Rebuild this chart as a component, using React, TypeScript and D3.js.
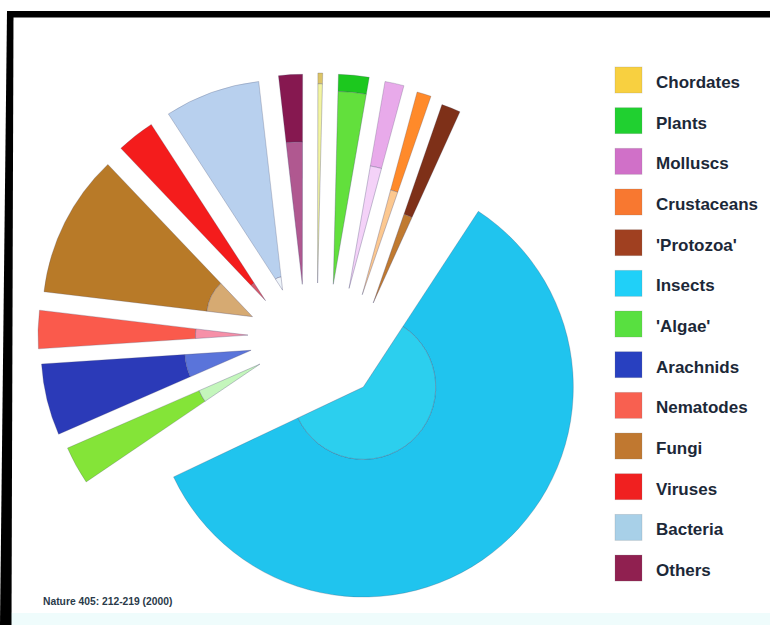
import React from "react";
import * as d3 from "d3";

// ---- data (Purvis & Hector, Nature 405: 212-219, 2000) ----
const groups = ["Chordates", "Plants", "Molluscs", "Crustaceans", "'Protozoa'", "Insects", "'Algae'", "Arachnids", "Nematodes", "Fungi", "Viruses", "Bacteria", "Others"];
const described = [45000, 270000, 70000, 40000, 40000, 950000, 40000, 75000, 25000, 72000, 4000, 4000, 115000];
const estimated = [50000, 320000, 200000, 150000, 200000, 8000000, 400000, 750000, 400000, 1500000, 400000, 1000000, 250000];
const pieOrder = ["Insects", "'Algae'", "Arachnids", "Nematodes", "Fungi", "Viruses", "Bacteria", "Others", "Chordates", "Plants", "Molluscs", "Crustaceans", "'Protozoa'"];
const footnote = "Nature 405: 212-219 (2000)";

// ---- styles ----
const legendColors = ["#f8d040", "#20d030", "#d070c8", "#f87830", "#a04020", "#20d0f8", "#58e040", "#2840c0", "#f86050", "#c07830", "#f02020", "#a8d0e8", "#902050"];
const outerColors = ["#dcc466", "#1cc81e", "#e8aaea", "#ff8a2a", "#7e3018", "#20c4ee", "#84e438", "#2b3ab8", "#fa5a4c", "#b87a28", "#f41c1c", "#b8d0ee", "#861850"];
const innerColors = ["#f2f4a0", "#62e03c", "#f4d2f8", "#fcc890", "#c07a30", "#2ccfee", "#c4f6bc", "#5a74da", "#f690a8", "#d6aa72", "#d85868", "#eef4fa", "#b05890"];

const deg = Math.PI / 180;
const R = 210;
const pieStart = 24.4 * deg;
const center = [318, 335];
const fan = { rx: 70, ry: 52, start: 236 * deg, gap: 11.07 * deg, k: 0.386 };
const insectShift = { rotate: 8.8 * deg, dist: 69 };

export default function App() {
  const pie = d3
    .pie<string>()
    .value((n) => estimated[groups.indexOf(n)])
    .sort(null)
    .startAngle(pieStart)
    .endAngle(pieStart + 2 * Math.PI);
  const arcs = pie(pieOrder);
  const arc = d3.arc<any>();

  // layout: apex of each exploded slice
  const slices: any[] = [];
  let psi = fan.start;
  arcs.forEach((a, i) => {
    const gi = groups.indexOf(a.data);
    let s = a.startAngle;
    let e = a.endAngle;
    let ax: number, ay: number;
    if (i === 0) {
      s += insectShift.rotate;
      e += insectShift.rotate;
      const mid = (s + e) / 2;
      ax = center[0] + insectShift.dist * Math.sin(mid);
      ay = center[1] - insectShift.dist * Math.cos(mid);
    } else {
      if (i > 1) {
        const prev = arcs[i - 1];
        const span = (prev.endAngle - prev.startAngle + a.endAngle - a.startAngle) / 2;
        psi += fan.gap + fan.k * span;
      }
      ax = center[0] + fan.rx * Math.sin(psi);
      ay = center[1] - fan.ry * Math.cos(psi);
    }
    const rIn = R * Math.sqrt(described[gi] / estimated[gi]);
    slices.push({ name: a.data, gi, s, e, ax, ay, rIn });
  });

  const font = "'Liberation Sans', Arial, sans-serif";
  const legendTop = 67;
  const legendStep = 40.67;

  return (
    <svg width={770} height={625} style={{ position: "absolute", left: 0, top: 0, background: "#ffffff" }}>
      <rect x={0} y={0} width={770} height={625} fill="#ffffff" />
      <rect x={11} y={613} width={759} height={12} fill="#effcfc" />
      {/* scan frame */}
      <rect x={7} y={11} width={763} height={6.5} fill="#000" />
      <polygon points="7,11 13.5,11 11.5,625 0,625" fill="#000" />

      {slices.map((d) => (
        <g key={d.name} transform={`translate(${d.ax},${d.ay})`}>
          <path
            d={arc({ innerRadius: d.rIn, outerRadius: R, startAngle: d.s, endAngle: d.e }) as string}
            fill={outerColors[d.gi]}
            stroke="rgba(70,70,100,0.35)"
            strokeWidth={0.7}
          />
          <path
            d={arc({ innerRadius: 0, outerRadius: d.rIn, startAngle: d.s, endAngle: d.e }) as string}
            fill={innerColors[d.gi]}
            stroke="rgba(70,70,110,0.45)"
            strokeWidth={0.7}
          />
        </g>
      ))}

      {groups.map((g, i) => (
        <g key={g} transform={`translate(615,${legendTop + i * legendStep})`}>
          <rect width={27} height={26} fill={legendColors[i]} stroke="rgba(120,120,120,0.25)" strokeWidth={0.8} />
          <text x={41} y={21} fontFamily={font} fontWeight="bold" fontSize={17} fill="#1c2838">
            {g}
          </text>
        </g>
      ))}

      <text x={43} y={605} fontFamily={font} fontWeight="bold" fontSize={10.3} fill="#2a3a4a">
        {footnote}
      </text>
    </svg>
  );
}
